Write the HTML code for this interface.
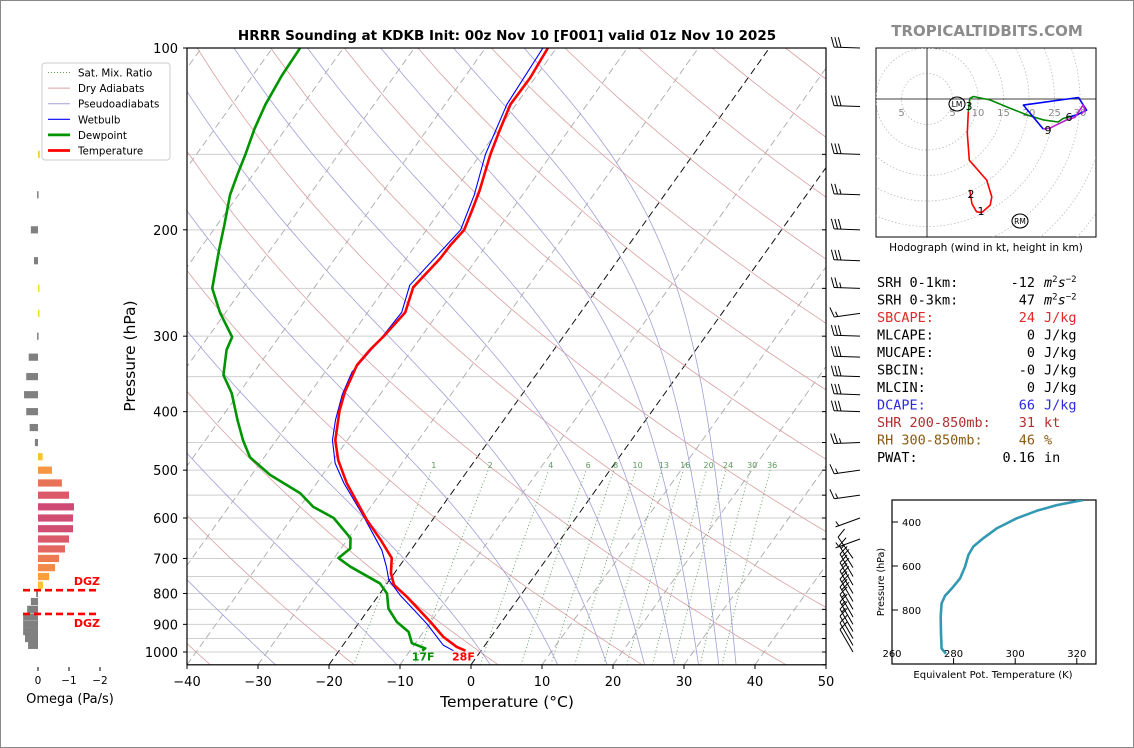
<!DOCTYPE html>
<html><head><meta charset="utf-8">
<style>
html,body{margin:0;padding:0;background:#fff;}
#wrap{position:relative;width:1134px;height:748px;overflow:hidden;}
svg text{font-family:"DejaVu Sans","Liberation Sans",sans-serif;}
.mono{font-family:"DejaVu Sans Mono","Liberation Mono",monospace;}
</style></head>
<body>
<div id="wrap">
<svg id="fig" width="1134" height="748" viewBox="0 0 1134 748" xmlns="http://www.w3.org/2000/svg">
<rect x="0.5" y="0.5" width="1133" height="747" fill="#fff" stroke="#888"/>
<defs>
<clipPath id="mainclip"><rect x="187" y="48" width="639" height="617"/></clipPath>
<clipPath id="hodoclip"><rect x="876" y="48" width="220" height="189"/></clipPath>
<clipPath id="thclip"><rect x="892" y="500" width="204" height="164"/></clipPath>
</defs>
<text x="507" y="40" text-anchor="middle" font-size="13.5" font-weight="bold">HRRR Sounding at KDKB Init: 00z Nov 10 [F001] valid 01z Nov 10 2025</text>
<text x="987" y="36" text-anchor="middle" font-size="15" font-weight="bold" fill="#8c8c8c">TROPICALTIDBITS.COM</text>
<g id="main"></g>
<g id="barbs"></g>
<g id="omega"></g>
<g id="hodo"></g>
<g id="stats"></g>
<g id="thetae"></g>
<g id="legend"></g>
</svg>
</div>
<script>
// ---------- DATA ----------
const tempP = [100,112,124,137,150,172,185,200,212,223,249,274,299,316,335,371,398,446,481,525,605,652,699,740,774,811,892,944,981,995];
const tempT = [-51.2,-50.7,-50.8,-49.7,-48.6,-46.5,-45.6,-44.7,-45.1,-45.2,-46.1,-44.7,-45.3,-45.9,-46.2,-45.2,-44.1,-41.7,-39.3,-35.8,-29.2,-25.3,-21.9,-20.5,-18.9,-15.8,-10.0,-6.7,-3.8,-2.2];
const wbP = [100,124,150,175,200,247,274,304,344,375,413,446,487,525,597,678,722,760,805,897,974,995];
const wbT = [-51.9,-51.3,-49.3,-46.8,-45.2,-46.8,-45.2,-45.5,-46.2,-45.3,-43.7,-42.1,-39.4,-36.2,-30.0,-24.1,-21.8,-20.1,-17.0,-10.4,-5.9,-3.9];
const dewP = [100,111,124,136,150,162,175,196,216,250,274,301,316,348,373,413,446,476,509,546,575,600,648,674,699,722,770,800,847,891,926,967,986,995];
const dewT = [-86.1,-85.9,-85.3,-84.4,-83.1,-82.2,-81.2,-79.0,-77.2,-74.3,-70.8,-66.6,-66.1,-64.0,-61.0,-57.5,-54.7,-52.0,-47.4,-41.3,-38.1,-34.1,-29.7,-28.7,-29.4,-26.9,-21.0,-19.0,-17.3,-14.8,-12.1,-10.5,-8.1,-8.3];
const xTicks = [-40,-30,-20,-10,0,10,20,30,40,50];
const yTicks = [100,200,300,400,500,600,700,800,900,1000];
const gridP = [100,150,200,250,300,350,400,450,500,550,600,650,700,750,800,850,900,950,1000];
const isoT = [-120,-110,-100,-90,-80,-70,-60,-50,-40,-30,-20,-10,0,10,20,30,40,50];
const dryTheta = [-60,-40,-20,0,20,40,60,80,100,120,140,160,180,200,220,240,260,280,300];
const moistThetaE = [-30,-10,10,30,50,70,90,110,130,150];
const mixW = [1,2,4,6,8,10,13,16,20,24,30,36];
const omegaP = [150,175,200,225,250,275,300,325,350,375,400,425,450,475,500,525,550,575,600,625,650,675,700,725,750,775,800,825,850,875,900,925,950,975];
const omegaV = [-0.06,0.03,0.23,0.13,-0.03,-0.03,0.03,0.3,0.38,0.45,0.38,0.27,0.1,-0.15,-0.45,-0.77,-1.0,-1.16,-1.13,-1.13,-1.0,-0.87,-0.68,-0.55,-0.36,-0.16,0.06,0.23,0.35,0.48,0.48,0.48,0.42,0.32];
const dgzP = [790,865];
const omegaTicks = [0,-1,-2];
const barbP = [100,125,150,175,200,225,250,275,300,325,350,375,400,450,500,550,600,650,700,725,750,775,800,825,850,875,900,925,950,975,1000];
const barbSpd = [30,30,30,25,30,30,25,15,30,30,30,30,30,25,15,15,5,5,10,15,20,20,20,20,20,15,15,15,10,10,10];
const barbDir = [272,272,272,272,272,272,272,262,272,272,272,272,272,268,262,262,250,250,325,328,330,330,330,330,330,330,330,330,330,330,330];
const hodoRedU = [8.4,8.8,9.7,10.7,12.4,12.7,11.7,8.3,7.9,8.1];
const hodoRedV = [-17.8,-20.5,-22.1,-22.3,-20.8,-19.2,-15.9,-12,-6.7,-2.5];
const hodoGreenU = [8.1,8.4,9.1,12.4,16.3,19.5,22.8,25.7,26.7,28];
const hodoGreenV = [-2.5,0.1,0.5,-0.2,-1.8,-3.1,-4.1,-4.5,-3.8,-3.5];
const hodoBlueU = [28,29.4,31.3,29.7,18.9,22.8];
const hodoBlueV = [-3.5,-3.1,-2.2,0.3,-1.2,-5.9];
const hodoMagU = [22.8,24.1,27.4,29,30.6,31,30.2];
const hodoMagV = [-5.9,-5.7,-4.1,-3.6,-1.2,-2.2,-3.0];
const hodoRings = [5,10,15,20,25,30,35,40,45,50];
const thetaE = [322.1,313.5,307.0,300.5,294.0,289.6,286.4,284.8,283.7,282.1,279.9,277.2,276.1,275.8,275.9,276.1,277.5];
const thetaEP = [300,323,349,383,429,474,512,550,603,656,694,736,770,830,906,975,998];
const thXTicks = [260,280,300,320];
const thYTicks = [400,600,800];

// ---------- HELPERS ----------
const NS = "http://www.w3.org/2000/svg";
function mk(tag, attrs, parent){
  const e = document.createElementNS(NS, tag);
  for (const k in attrs) e.setAttribute(k, attrs[k]);
  if (parent) parent.appendChild(e);
  return e;
}
function yP(p){ return 48 + 604*Math.log10(p/100); }
function xT(t,p){ return 187 + (t+40)*7.1 + (664.8 - yP(p))*0.714; }
function es(t){ return 6.112*Math.exp(17.67*t/(t+243.5)); }
function pathFrom(ps, ts){
  let d = "";
  for (let i=0;i<ps.length;i++){ d += (i?"L":"M") + xT(ts[i],ps[i]).toFixed(2) + "," + yP(ps[i]).toFixed(2); }
  return d;
}
const main = document.getElementById("main");
const bg = mk("g",{"clip-path":"url(#mainclip)"}, main);



gridP.forEach(p=>{
  const l = mk("line",{x1:187,x2:826,y1:yP(p),y2:yP(p),stroke:"#cfcfcf","stroke-width":1}, bg);
  
  
});
isoT.forEach(t=>{
  const black = (t===0 || t===-20);
  const l = mk("line",{x1:xT(t,1050),y1:yP(1050),x2:xT(t,100),y2:yP(100),stroke:black?"#111":"#aaa","stroke-width":black?1:0.9,"stroke-dasharray":"7,4"}, bg);
  
  
});
dryTheta.forEach(thv=>{
  const TK = thv+273.15; let d="";
  for (let p=1050;p>=100;p-=10){ const t = TK*Math.pow(p/1000,0.2857)-273.15; d += (d?"L":"M")+xT(t,p).toFixed(2)+","+yP(p).toFixed(2); }
  const l = mk("path",{d:d,fill:"none",stroke:"#d9a0a0","stroke-width":0.8}, bg);
  
  
});
function thetaEfn(t,p){ const TK=t+273.15; const e=es(t); const ws=0.622*e/Math.max(p-e,1); return TK*Math.pow(1000/p,0.2857)*Math.exp(2.5e6*ws/(1005*TK)); }
moistThetaE.forEach(te=>{
  const target = te+273.15; let d="";
  for (let p=1050;p>=100;p-=10){
    let lo=-150, hi=60;
    for (let k=0;k<50;k++){ const m=(lo+hi)/2; if (thetaEfn(m,p)>target) hi=m; else lo=m; }
    const t=(lo+hi)/2;
    d += (d?"L":"M")+xT(t,p).toFixed(2)+","+yP(p).toFixed(2);
  }
  const l = mk("path",{d:d,fill:"none",stroke:"#a0a0d8","stroke-width":0.8}, bg);
  
  
});
mixW.forEach(w=>{
  let d="";
  for (let p=1050;p>=500;p-=10){
    const e = w*p/(622+w); const ln=Math.log(e/6.112); const t=243.5*ln/(17.67-ln);
    d += (d?"L":"M")+xT(t,p).toFixed(2)+","+yP(p).toFixed(2);
  }
  const l = mk("path",{d:d,fill:"none",stroke:"#5a9a5a","stroke-width":0.9,"stroke-dasharray":"1,2.5"}, bg);
  
  
  const e = w*500/(622+w); const ln=Math.log(e/6.112); const t=243.5*ln/(17.67-ln);
  const tx = mk("text",{x:xT(t,500)+2,y:yP(500)-2,"font-size":8,fill:"#5a9a5a","text-anchor":"middle"}, bg);
  tx.textContent = w;
  
  
});
const prof = mk("g",{"clip-path":"url(#mainclip)"}, main);
const dewL = mk("path",{d:pathFrom(dewP,dewT),fill:"none",stroke:"#009400","stroke-width":2.6,"stroke-linejoin":"round"}, prof);


const wbL = mk("path",{d:pathFrom(wbP,wbT),fill:"none",stroke:"#0000ff","stroke-width":1.1,"stroke-linejoin":"round"}, prof);


const tL = mk("path",{d:pathFrom(tempP,tempT),fill:"none",stroke:"#ff0000","stroke-width":2.6,"stroke-linejoin":"round"}, prof);


const sfcD = dewT[dewT.length-1], sfcT = tempT[tempT.length-1];
const sdl = mk("text",{x:xT(sfcD,995)+1,y:yP(995)+10,"font-size":11,"font-weight":"bold",fill:"#009400","text-anchor":"middle"}, main);
sdl.textContent = Math.round(sfcD*9/5+32)+"F";


const stl = mk("text",{x:xT(sfcT,995)-2,y:yP(995)+10,"font-size":11,"font-weight":"bold",fill:"#ff0000","text-anchor":"middle"}, main);
stl.textContent = Math.round(sfcT*9/5+32)+"F";


const frame = mk("rect",{x:187,y:48,width:639,height:616.8,fill:"none",stroke:"#000","stroke-width":1.2}, main);


xTicks.forEach(t=>{
  const x = 187+(t+40)*7.1;
  mk("line",{x1:x,x2:x,y1:664.8,y2:669,stroke:"#000"}, main);
  const tx = mk("text",{x:x,y:686,"font-size":13,"text-anchor":"middle"}, main);
  tx.textContent = t<0 ? "\u2212"+(-t) : t;
  
  
});
yTicks.forEach(p=>{
  const y = yP(p);
  mk("line",{x1:183,x2:187,y1:y,y2:y,stroke:"#000"}, main);
  const tx = mk("text",{x:178,y:y+5,"font-size":13,"text-anchor":"end"}, main);
  tx.textContent = p;
  
  
});
gridP.concat([1050]).forEach(p=>{
  const y=yP(p);
  mk("line",{x1:822,x2:826,y1:y,y2:y,stroke:"#000"}, main);
});
const xl = mk("text",{x:507,y:707,"font-size":15.5,"text-anchor":"middle"}, main);
xl.textContent = "Temperature (\u00B0C)";


const yl = mk("text",{x:0,y:0,"font-size":15.5,"text-anchor":"middle",transform:"translate(135,356) rotate(-90)"}, main);
yl.textContent = "Pressure (hPa)";



// ---------- BARBS ----------
const barbs = document.getElementById("barbs");
barbP.forEach((p,i)=>{
  const g = mk("g",{stroke:"#000","stroke-width":1,fill:"none"}, barbs);
  
  
  const dir = barbDir[i]*Math.PI/180;
  const ux = Math.sin(dir), uy = -Math.cos(dir);
  const low = p>=700;
  const ax = low ? 853 : 860, ay = yP(p);
  const L = 26;
  const ex = ax+ux*L, ey = ay+uy*L;
  mk("line",{x1:ax,y1:ay,x2:ex,y2:ey}, g);
  let spd = barbSpd[i]; let k=0;
  const px = -uy, py = ux;
  while (spd >= 10){ const sx=ex-ux*k*3.5, sy=ey-uy*k*3.5; mk("line",{x1:sx,y1:sy,x2:sx+px*10+ux*3,y2:sy+py*10+uy*3}, g); spd-=10; k++; }
  if (spd >= 5){ if(k===0)k=1; const sx=ex-ux*k*3.5, sy=ey-uy*k*3.5; mk("line",{x1:sx,y1:sy,x2:sx+px*5+ux*1.5,y2:sy+py*5+uy*1.5}, g); }
});

// ---------- OMEGA ----------
const om = document.getElementById("omega");
function omX(v){ return 38 - v*31; }
function lerpC(a,b,f){ const pa=[parseInt(a.slice(1,3),16),parseInt(a.slice(3,5),16),parseInt(a.slice(5,7),16)], pb=[parseInt(b.slice(1,3),16),parseInt(b.slice(3,5),16),parseInt(b.slice(5,7),16)]; return "rgb("+pa.map((c,i)=>Math.round(c+(pb[i]-c)*f)).join(",")+")"; }
const stops=[[0,"#f7e225"],[0.3,"#fca636"],[0.6,"#f2844b"],[0.9,"#e16462"],[1.2,"#cc4778"]];
function omColor(v){ if (v>=0) return "#808080"; const m=Math.min(-v,1.2); for(let i=1;i<stops.length;i++){ if(m<=stops[i][0]){ const f=(m-stops[i-1][0])/(stops[i][0]-stops[i-1][0]); return lerpC(stops[i-1][1],stops[i][1],f);} } return stops[4][1]; }
omegaP.forEach((p,i)=>{
  const v=omegaV[i]; const x0=omX(0), x1=omX(v);
  const r = mk("rect",{x:Math.min(x0,x1),y:yP(p)-3.6,width:Math.max(Math.abs(x1-x0),1.5),height:7.2,fill:omColor(v)}, om);
  
  
});
dgzP.forEach((p,i)=>{
  const l = mk("line",{x1:23,x2:100,y1:yP(p),y2:yP(p),stroke:"#ff0000","stroke-width":2.6,"stroke-dasharray":"7,4"}, om);
  
  
  const t = mk("text",{x:100,y:i===0?yP(p)-5:yP(p)+13,"font-size":11,"font-weight":"bold",fill:"#ff0000","text-anchor":"end"}, om);
  t.textContent = "DGZ";
  
  
});
omegaTicks.forEach(v=>{
  const x=omX(v);
  mk("line",{x1:x,x2:x,y1:667,y2:671,stroke:"#000"}, om);
  const t = mk("text",{x:x,y:684,"font-size":10.5,"text-anchor":"middle"}, om);
  t.textContent = v<0 ? "\u2212"+(-v) : v;
  
  
});
const omt = mk("text",{x:70,y:703,"font-size":13,"text-anchor":"middle"}, om);
omt.textContent = "Omega (Pa/s)";



// ---------- LEGEND ----------
const lg = document.getElementById("legend");
const lbox = mk("rect",{x:42,y:63,width:128,height:97,rx:3,fill:"#fff","fill-opacity":0.9,stroke:"#cccccc"}, lg);


const legItems = [["Sat. Mix. Ratio","#5a9a5a",1,"1,2"],["Dry Adiabats","#d9a0a0",1,""],["Pseudoadiabats","#a0a0d8",1,""],["Wetbulb","#0000ff",1.2,""],["Dewpoint","#009400",2.8,""],["Temperature","#ff0000",2.8,""]];
legItems.forEach((it,i)=>{
  const y = 72.5 + i*15.6;
  const l = mk("line",{x1:48,x2:70,y1:y,y2:y,stroke:it[1],"stroke-width":it[2],"stroke-dasharray":it[3]||"none"}, lg);
  
  
  const t = mk("text",{x:78,y:y+4,"font-size":10.3}, lg);
  t.textContent = it[0];
  
  
});

// ---------- HODOGRAPH ----------
const hd = document.getElementById("hodo");
const HX=927, HY=99, HS=5.1;
function hx(u){return HX+u*HS;} function hy(v){return HY-v*HS;}
const hbox = mk("rect",{x:876,y:48,width:220,height:189,fill:"#fff",stroke:"#000","stroke-width":1}, hd);


const hg = mk("g",{"clip-path":"url(#hodoclip)"}, hd);
hodoRings.forEach(r=>{
  const c = mk("circle",{cx:HX,cy:HY,r:r*HS,fill:"none",stroke:"#bbb","stroke-width":0.8,"stroke-dasharray":"1.5,2"}, hg);
  
  
});
mk("line",{x1:876,x2:1096,y1:HY,y2:HY,stroke:"#000","stroke-width":0.8}, hg);
mk("line",{x1:HX,x2:HX,y1:48,y2:237,stroke:"#000","stroke-width":0.8}, hg);
[-5,5,10,15,20,25,30].forEach(r=>{
  const t = mk("text",{x:hx(r),y:HY+17,"font-size":10,fill:"#888","text-anchor":"middle"}, hg);
  t.textContent = Math.abs(r);
  
  
});
function hpath(us,vs){ return us.map((u,i)=>(i?"L":"M")+hx(u).toFixed(1)+","+hy(vs[i]).toFixed(1)).join(""); }
[[hodoRedU,hodoRedV,"#ff0000","hodograph-0-3km"],[hodoGreenU,hodoGreenV,"#008800","hodograph-3-6km"],[hodoBlueU,hodoBlueV,"#0000ff","hodograph-6-9km"],[hodoMagU,hodoMagV,"#bb22cc","hodograph-9-12km"]].forEach(s=>{
  const p = mk("path",{d:hpath(s[0],s[1]),fill:"none",stroke:s[2],"stroke-width":1.6,"stroke-linejoin":"round"}, hg);
  
  
});
[["1",981,215],["2",971,198],["3",969,110],["6",1069,121],["9",1048,134]].forEach(k=>{
  const t = mk("text",{x:k[1],y:k[2],"font-size":11,"text-anchor":"middle"}, hg);
  t.textContent = k[0];
  
  
});
[["LM",957,104],["RM",1020,221]].forEach(k=>{
  const g = mk("g",{}, hg);
  
  
  mk("ellipse",{cx:k[1],cy:k[2],rx:8,ry:7,fill:"none",stroke:"#000","stroke-width":1.1}, g);
  const t = mk("text",{x:k[1],y:k[2]+3,"font-size":7.5,"text-anchor":"middle"}, g);
  t.textContent = k[0];
});
const hcap = mk("text",{x:986,y:251,"font-size":10.5,"text-anchor":"middle"}, hd);
hcap.textContent = "Hodograph (wind in kt, height in km)";



// ---------- STATS ----------
const stG = document.getElementById("stats");
const statRows = [
  ["SRH 0-1km:","-12","m2s","#000"],["SRH 0-3km:","47","m2s","#000"],["SBCAPE:","24","J/kg","#e02828"],
  ["MLCAPE:","0","J/kg","#000"],["MUCAPE:","0","J/kg","#000"],["SBCIN:","-0","J/kg","#000"],["MLCIN:","0","J/kg","#000"],
  ["DCAPE:","66","J/kg","#2a2ae0"],["SHR 200-850mb:","31","kt","#b03030"],["RH 300-850mb:","46","%","#8a5a10"],["PWAT:","0.16","in","#000"]];
statRows.forEach((r,i)=>{
  const y = 287 + i*17.5;
  const a = mk("text",{x:877,y:y,"font-size":13.5,fill:r[3],class:"mono"}, stG);
  a.textContent = r[0];
  
  
  const b = mk("text",{x:1035,y:y,"font-size":13.5,fill:r[3],"text-anchor":"end",class:"mono"}, stG);
  b.textContent = r[1];
  
  
  const c = mk("text",{x:1044,y:y,"font-size":13.5,fill:r[3],class:"mono"}, stG);
  
  
  if (r[2]==="m2s"){
    const t1 = mk("tspan",{"font-style":"italic"}, c); t1.textContent="m";
    const t2 = mk("tspan",{dy:-5,"font-size":9}, c); t2.textContent="2";
    const t3 = mk("tspan",{dy:5,"font-style":"italic"}, c); t3.textContent="s";
    const t4 = mk("tspan",{dy:-5,"font-size":9}, c); t4.textContent="\u22122";
  } else c.textContent = r[2];
});

// ---------- THETA-E ----------
const thG = document.getElementById("thetae");
function xE(t){ return 892 + (t-260)*3.08; }
function yE(p){ return 522 + (p-400)*0.22; }
const tbox = mk("rect",{x:892,y:500,width:204,height:164,fill:"#fff",stroke:"#000","stroke-width":1.2}, thG);


const tg = mk("g",{"clip-path":"url(#thclip)"}, thG);
const thp = mk("path",{d:thetaE.map((t,i)=>(i?"L":"M")+xE(t).toFixed(1)+","+yE(thetaEP[i]).toFixed(1)).join(""),fill:"none",stroke:"#3399b3","stroke-width":2.6,"stroke-linejoin":"round"}, tg);


thXTicks.forEach(t=>{
  const x=xE(t);
  mk("line",{x1:x,x2:x,y1:664,y2:658,stroke:"#000"}, thG);
  const tx = mk("text",{x:x,y:657,"font-size":10,"text-anchor":"middle"}, thG);
  tx.textContent = t;
  
  
});
thYTicks.forEach(p=>{
  const y=yE(p);
  mk("line",{x1:892,x2:898,y1:y,y2:y,stroke:"#000"}, thG);
  const tx = mk("text",{x:902,y:y+4,"font-size":10}, thG);
  tx.textContent = p;
  
  
});
const tyl = mk("text",{x:0,y:0,"font-size":9.5,"text-anchor":"middle",transform:"translate(884,582) rotate(-90)"}, thG);
tyl.textContent = "Pressure (hPa)";


const txl = mk("text",{x:993,y:678,"font-size":10,"text-anchor":"middle"}, thG);
txl.textContent = "Equivalent Pot. Temperature (K)";


</script>
</body></html>
